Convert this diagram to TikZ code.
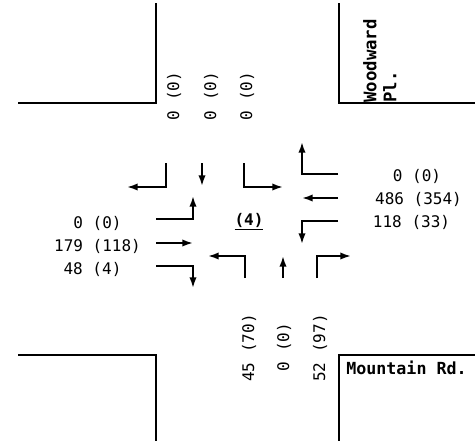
\documentclass[tikz,border=0pt]{standalone}
\usepackage{fontspec}
\setmonofont{DejaVu Sans Mono}
\usetikzlibrary{arrows.meta}

\begin{document}
\begin{tikzpicture}[x=0.75pt, y=-0.75pt,
    curb/.style={line width=1.4pt, black},
    move/.style={line width=1.4pt, -{Latex[length=8pt, width=5.5pt]}},
    vol/.style={font=\ttfamily\fontsize{12}{14}\selectfont, inner sep=0pt},
    street/.style={font=\ttfamily\bfseries\fontsize{13}{15}\selectfont, inner sep=0pt, align=left}
]
\useasboundingbox (0,0) rectangle (475,443);

% Curbs
\draw[curb] (18,103) -- (156,103) -- (156,3);
\draw[curb] (475,103) -- (339,103) -- (339,3);
\draw[curb] (18,355) -- (156,355) -- (156,441);
\draw[curb] (475,355) -- (339,355) -- (339,441);

% Street names
\node[street, rotate=90, anchor=north west] (woodward) at (363,103) {Woodward\\Pl.};
\node[street, font=\ttfamily\bfseries\fontsize{12.5}{15}\selectfont, anchor=west] (mountain) at (346,368) {Mountain Rd.};

% Southbound movements
\draw[move] (166,163) -- (166,187) -- (127,187);
\draw[move] (202,163) -- (202,186);
\draw[move] (244,163) -- (244,187) -- (283,187);

% Westbound movements
\draw[move] (338,174) -- (302,174) -- (302,142);
\draw[move] (338,198) -- (302,198);
\draw[move] (338,221) -- (302,221) -- (302,244);

% Eastbound movements
\draw[move] (156,219) -- (193,219) -- (193,196);
\draw[move] (156,243) -- (193,243);
\draw[move] (156,266) -- (193,266) -- (193,288);

% Northbound movements
\draw[move] (245,278) -- (245,256) -- (208,256);
\draw[move] (283,278) -- (283,256);
\draw[move] (317,278) -- (317,256) -- (351,256);

% Volumes - southbound
\node[vol, rotate=90] (sbR) at (174,96) {0 (0)};
\node[vol, rotate=90] (sbT) at (211,96) {0 (0)};
\node[vol, rotate=90] (sbL) at (247,96) {0 (0)};

% Volumes - northbound
\node[vol, rotate=90] (nbL) at (249,348) {45 (70)};
\node[vol, rotate=90] (nbT) at (284,347) {0 (0)};
\node[vol, rotate=90] (nbR) at (320,348) {52 (97)};

% Volumes - eastbound
\node[vol] (ebL) at (97.5,223) {0 (0)};
\node[vol] (ebT) at (97.5,246) {179 (118)};
\node[vol] (ebR) at (92.5,269) {48 (4)};

% Volumes - westbound
\node[vol] (wbR) at (417,176) {0 (0)};
\node[vol] (wbT) at (418.5,199) {486 (354)};
\node[vol] (wbL) at (411.5,222) {118 (33)};

% Peds
\node[vol, font=\ttfamily\bfseries\fontsize{12}{14}\selectfont] (peds) at (249,222) {\underline{(4)}};

\end{tikzpicture}
\end{document}
